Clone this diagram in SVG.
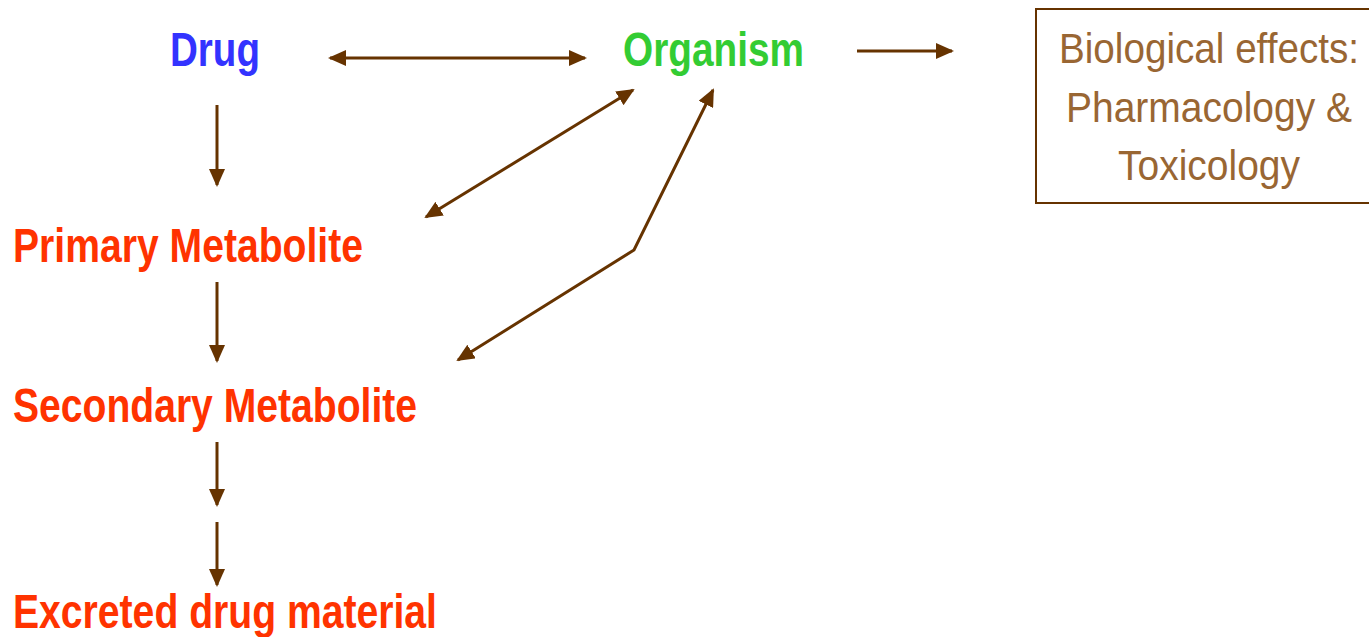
<svg xmlns="http://www.w3.org/2000/svg" width="1369" height="637" viewBox="0 0 1369 637">
<style>
.t{font-family:"Liberation Sans Narrow","Liberation Sans",Arial,sans-serif;font-weight:bold;font-size:49px}
.b{font-family:"Liberation Sans Narrow","Liberation Sans",Arial,sans-serif;font-size:43px;fill:#996633;text-anchor:middle}
.c{fill:none;stroke:#663300;stroke-width:3}
</style>
<defs>
<marker id="ah" markerUnits="userSpaceOnUse" markerWidth="18" markerHeight="16" viewBox="0 0 18 16" refX="16" refY="8" orient="auto-start-reverse">
<path d="M0,0 L18,8 L0,16 Z" fill="#663300"/>
</marker>
</defs>
<rect width="1369" height="637" fill="#fff"/>
<g id="drug"><text class="t" x="170" y="66" fill="#3333FF" textLength="90" lengthAdjust="spacingAndGlyphs">Drug</text></g>
<g id="organism"><text class="t" x="623" y="66" fill="#33CC33" textLength="181" lengthAdjust="spacingAndGlyphs">Organism</text></g>
<g id="effects">
<rect x="1036" y="9" width="334" height="194" fill="none" stroke="#663300" stroke-width="2"/>
<text class="b" x="1209" y="63" textLength="300" lengthAdjust="spacingAndGlyphs">Biological effects:</text>
<text class="b" x="1209" y="122" textLength="286" lengthAdjust="spacingAndGlyphs">Pharmacology &amp;</text>
<text class="b" x="1209" y="180" textLength="182" lengthAdjust="spacingAndGlyphs">Toxicology</text>
</g>
<g id="primary"><text class="t" x="13" y="262" fill="#FF3300" textLength="350" lengthAdjust="spacingAndGlyphs">Primary Metabolite</text></g>
<g id="secondary"><text class="t" x="13" y="422" fill="#FF3300" textLength="404" lengthAdjust="spacingAndGlyphs">Secondary Metabolite</text></g>
<g id="excreted"><text class="t" x="13" y="628" fill="#FF3300" textLength="424" lengthAdjust="spacingAndGlyphs">Excreted drug material</text></g>
<g id="connectors">
<line class="c" x1="330" y1="58" x2="585" y2="58" marker-start="url(#ah)" marker-end="url(#ah)"/>
<line class="c" x1="857" y1="51" x2="952" y2="51" marker-end="url(#ah)"/>
<line class="c" x1="217" y1="105" x2="217" y2="185" marker-end="url(#ah)"/>
<line class="c" x1="217" y1="282" x2="217" y2="361" marker-end="url(#ah)"/>
<line class="c" x1="217" y1="442" x2="217" y2="505" marker-end="url(#ah)"/>
<line class="c" x1="217" y1="522" x2="217" y2="585" marker-end="url(#ah)"/>
<line class="c" x1="426" y1="217" x2="633" y2="90" marker-start="url(#ah)" marker-end="url(#ah)"/>
<polyline class="c" points="458,360 634,250 713,90" marker-start="url(#ah)" marker-end="url(#ah)"/>
</g>
</svg>
